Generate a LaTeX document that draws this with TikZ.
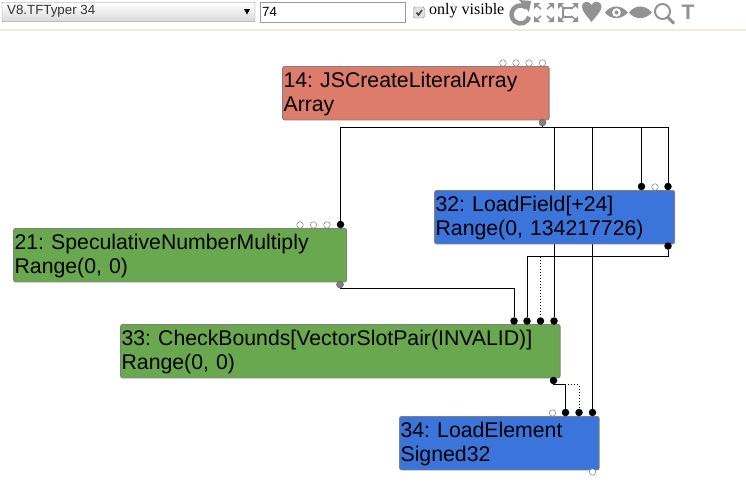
\documentclass[tikz,border=0pt]{standalone}
\usepackage{fontspec}
\setmainfont{Liberation Serif}
\setsansfont{Liberation Sans}
\usepackage{tikz}
\usetikzlibrary{backgrounds}
\definecolor{nodered}{HTML}{DD7C6A}
\definecolor{nodeblue}{HTML}{3B74DB}
\definecolor{nodegreen}{HTML}{6AA84F}
\definecolor{iconcol}{HTML}{929292}
\definecolor{barline}{HTML}{F5E9D7}
\tikzset{
    opnode/.style={rectangle, draw=black!50, line width=0.8pt, rounded corners=2pt, anchor=north west, align=left, inner sep=0pt, inner xsep=1pt, text height=17pt, font=\sffamily\fontsize{21.25}{24}\selectfont\frenchspacing, text=black},
    portopen/.style={circle, draw=black!50, fill=white, line width=0.5pt, inner sep=0pt, minimum size=6.5pt},
    portfull/.style={circle, fill=black, inner sep=0pt, minimum size=7.5pt},
    portout/.style={circle, draw=black!60, fill=black!50, line width=0.5pt, inner sep=0pt, minimum size=7pt},
    edge/.style={draw=black, line width=1pt},
    edgedot/.style={draw=black, line width=1pt, dotted},
}
\begin{document}
\begin{tikzpicture}[x=1pt, y=-1pt]
    \useasboundingbox (0,0) rectangle (746,488);

    % Barra de cima
    \node[rectangle, draw=black!45, top color=white, bottom color=black!15, rounded corners=1pt, minimum width=253pt, minimum height=19.5pt, inner sep=0pt] (select) at (128.5,12) {};
    \node[anchor=west, inner sep=0pt, font=\sffamily\fontsize{13.3}{15}\selectfont, text=black!80] (selecttext) at (7,11.5) {V8.TFTyper 34};
    \fill[black] (244,9) -- (250,9) -- (247,14.5) -- cycle;
    \node[rectangle, draw=black!40, minimum width=145pt, minimum height=20pt, inner sep=0pt] (phase) at (332.5,12) {};
    \node[anchor=west, inner sep=0pt, font=\sffamily\fontsize{13.3}{15}\selectfont] (phasetext) at (262,12) {74};
    \node[rectangle, draw=black!45, fill=black!12, rounded corners=1.5pt, minimum size=11pt, inner sep=0pt] (check) at (419,12.5) {};
    \draw[line width=1.5pt, black!75] (416.5,12.5) -- (418.5,15) -- (422,10);
    \node[anchor=west, inner sep=0pt, font=\fontsize{16}{18}\selectfont] (visible) at (429,11) {only visible};
    \fill[barline] (0,29) rectangle (746,31);

    % Icones
    \draw[iconcol, line width=4.5pt] (526.3,7.6) arc (-50:-345:9);
    \fill[iconcol] (519,0) -- (531,1) -- (529,12) -- cycle;
    \foreach \cx in {544,568} {
        \draw[iconcol, line width=1.5pt] (\cx-3,9) -- (\cx-8,5);
        \draw[iconcol, line width=1.5pt] (\cx+3,9) -- (\cx+8,5);
        \draw[iconcol, line width=1.5pt] (\cx-3,16) -- (\cx-8,20);
        \draw[iconcol, line width=1.5pt] (\cx+3,16) -- (\cx+8,20);
        \fill[iconcol] (\cx-10,3) -- (\cx-4,3) -- (\cx-10,9) -- cycle;
        \fill[iconcol] (\cx+10,3) -- (\cx+4,3) -- (\cx+10,9) -- cycle;
        \fill[iconcol] (\cx-10,22) -- (\cx-4,22) -- (\cx-10,16) -- cycle;
        \fill[iconcol] (\cx+10,22) -- (\cx+4,22) -- (\cx+10,16) -- cycle;
    }
    \draw[iconcol, line width=2pt] (573,8) -- (563,8) -- (563,17) -- (573,17);
    \fill[iconcol] (591.5,22) .. controls (586,15) and (582,11) .. (582,6.5) .. controls (582,1) and (589,0) .. (591.5,5) .. controls (594,0) and (601.5,1) .. (601.5,6.5) .. controls (601.5,11) and (597,15) .. (591.5,22) -- cycle;
    \fill[iconcol, even odd rule] (605,12.5) .. controls (611,4.5) and (621,4.5) .. (628,12.5) .. controls (621,20) and (611,20) .. (605,12.5) -- cycle (616.5,12.5) circle (4.5pt);
    \fill[iconcol] (616.5,12.5) circle (2pt);
    \fill[iconcol] (629,12.5) .. controls (635,4.5) and (645,4.5) .. (652,12.5) .. controls (645,20) and (635,20) .. (629,12.5) -- cycle;
    \draw[iconcol, line width=2pt] (662.5,11.5) circle (7.5pt);
    \draw[iconcol, line width=3pt] (667.5,17) -- (674,23.5);
    \node[inner sep=0pt, font=\sffamily\bfseries\fontsize{21}{22}\selectfont, text=iconcol] (ticon) at (688,12.5) {T};

    % Posicionar os nos
    \node[opnode, fill=nodered, text width=264.5pt, minimum height=53.5pt] (n14) at (282.2,66) {14: JSCreateLiteralArray\\Array};
    \node[opnode, fill=nodeblue, text width=238pt, minimum height=53.5pt] (n32) at (434.2,190) {32: LoadField[+24]\\Range(0, 134217726)};
    \node[opnode, fill=nodegreen, text width=331pt, minimum height=53.5pt] (n21) at (13.2,228) {21: SpeculativeNumberMultiply\\Range(0, 0)};
    \node[opnode, fill=nodegreen, text width=437.5pt, minimum height=53.5pt] (n33) at (120.2,324) {33: CheckBounds[VectorSlotPair(INVALID)]\\Range(0, 0)};
    \node[opnode, fill=nodeblue, text width=197.5pt, minimum height=53.5pt] (n34) at (399.2,416) {34: LoadElement\\Signed32};

    % Portas
    \foreach \px [count=\i] in {503,516,529,542.5}
        \node[portopen] (i14\i) at (\px,63) {};
    \node[portout] (o14) at (542.5,122.5) {};
    \node[portfull] (i32a) at (641.5,186.5) {};
    \node[portopen] (i32b) at (655,187) {};
    \node[portfull] (i32c) at (668,186.5) {};
    \node[portfull] (o32) at (668,246) {};
    \foreach \px [count=\i] in {300,313.5,327}
        \node[portopen] (i21\i) at (\px,225) {};
    \node[portfull] (i21d) at (340.5,224.5) {};
    \node[portout] (o21) at (340,284.5) {};
    \node[portfull] (i33a) at (514,321) {};
    \node[portfull] (i33b) at (527,321) {};
    \node[portfull] (i33c) at (540.5,321) {};
    \node[portfull] (i33d) at (554,321) {};
    \node[portfull] (o33) at (553.5,380.5) {};
    \node[portopen] (i34a) at (552.5,413) {};
    \node[portfull] (i34b) at (565.5,412.5) {};
    \node[portfull] (i34c) at (579,412.5) {};
    \node[portfull] (i34d) at (592.5,412.5) {};
    \node[portopen] (o34) at (592.5,472) {};

    % Desenhar as arestas
    \begin{scope}[on background layer]
        \draw[edge] (o14) -- ++(0,5) -| (i21d);
        \draw[edge] (o14) -- ++(0,5) -| (i33d);
        \draw[edge] (o14) -- ++(0,5) -| (i34d);
        \draw[edge] (o14) -- ++(0,5) -| (i32a);
        \draw[edge] (o14) -- ++(0,5) -| (i32c);
        \draw[edge] (o32) -- ++(0,10) -| (i33b);
        \draw[edgedot] (o32) -- ++(0,10) -| (i33c);
        \draw[edge] (o21) -- ++(0,4) -| (i33a);
        \draw[edge] (o33) -- ++(0,4) -| (i34b);
        \draw[edgedot] (o33) -- ++(0,4) -| (i34c);
    \end{scope}
\end{tikzpicture}
\end{document}
